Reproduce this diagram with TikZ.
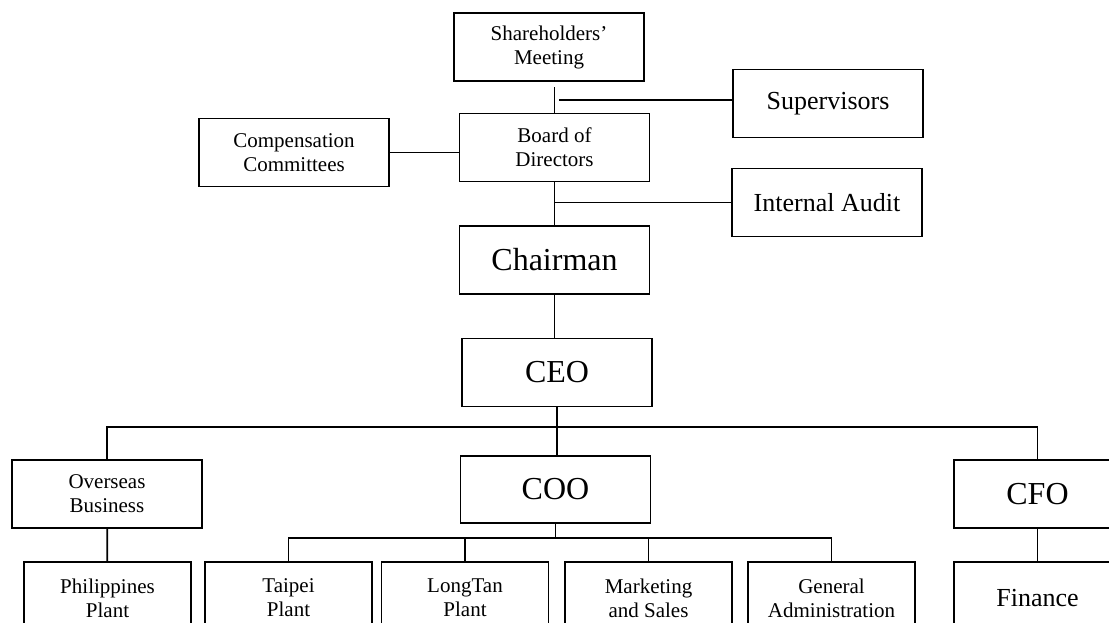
\documentclass[tikz,border=0pt]{standalone}
\usepackage{fontspec}
\setmainfont{Liberation Serif}
\usepackage{xcolor}

\begin{document}
\begin{tikzpicture}[x=1pt, y=-1pt, line width=1.7pt,
    unit/.style={draw, line width=1.9pt, inner sep=0pt, align=center, minimum width=190pt, minimum height=68pt},
    plant/.style={unit, minimum width=167pt, minimum height=72pt},
    smalltext/.style={font=\fontsize{21}{24}\selectfont},
    midtext/.style={font=\fontsize{26}{30}\selectfont},
    bigtext/.style={font=\fontsize{32}{36}\selectfont}]
    \useasboundingbox (0,0) rectangle (1109,622);
    \clip (0,0) rectangle (1109,622);

    % Governance
    \node[unit, smalltext] (share) at (549,47) {Shareholders'\\Meeting};
    \node[unit, smalltext] (board) at (554.5,147.5) {Board of\\Directors};
    \node[unit, smalltext] (comp) at (294,152.5) {Compensation\\Committees};
    \node[unit, midtext] (super) at (828,103.5) {Supervisors};
    \node[unit, midtext] (audit) at (827,202.5) {Internal Audit};
    \node[unit, bigtext] (chair) at (554.5,260) {Chairman};
    \node[unit, bigtext] (ceo) at (557,372.5) {CEO};

    % Management
    \node[unit, smalltext] (overseas) at (107,494) {Overseas\\Business};
    \node[unit, bigtext, minimum height=67pt] (coo) at (555.5,489.5) {COO};
    \node[unit, bigtext, minimum width=167pt] (cfo) at (1037.5,494) {CFO};
    \node[plant, smalltext] (phil) at (107.5,598) {Philippines\\Plant};
    \node[plant, smalltext] (taipei) at (288.5,598) {Taipei\\Plant};
    \node[plant, smalltext] (longtan) at (465,598) {LongTan\\Plant};
    \node[plant, smalltext] (market) at (648.5,598) {Marketing\\and Sales};
    \node[plant, smalltext] (general) at (831.5,598) {General\\Administration};
    \node[plant, midtext] (finance) at (1037.5,598) {Finance};

    \coordinate (supjoin) at (559,100);
    \coordinate (ceosplit) at (556,427);
    \coordinate (coosplit) at (557,538);

    \draw[shorten >=5pt] (board.north) -- (board.north |- share.south);
    \draw (supjoin) -- (supjoin -| super.west);
    \draw (comp.east) -- (comp.east -| board.west);
    \draw (board) -- (chair);
    \draw (audit.west) -- (audit.west -| board.south);
    \draw (chair.south) -- (chair.south |- ceo.north);
    \draw (ceo.south) -- (ceo.south |- coo.north);
    \draw (overseas.north) |- (ceosplit) -| (cfo.north);
    \draw (overseas) -- (phil);
    \draw (coo.south) -- (coo.south |- coosplit);
    \draw (taipei.north) |- (coosplit) -| (general.north);
    \draw (longtan.north) -- (longtan.north |- coosplit);
    \draw (market.north) -- (market.north |- coosplit);
    \draw (cfo) -- (finance);
\end{tikzpicture}
\end{document}
